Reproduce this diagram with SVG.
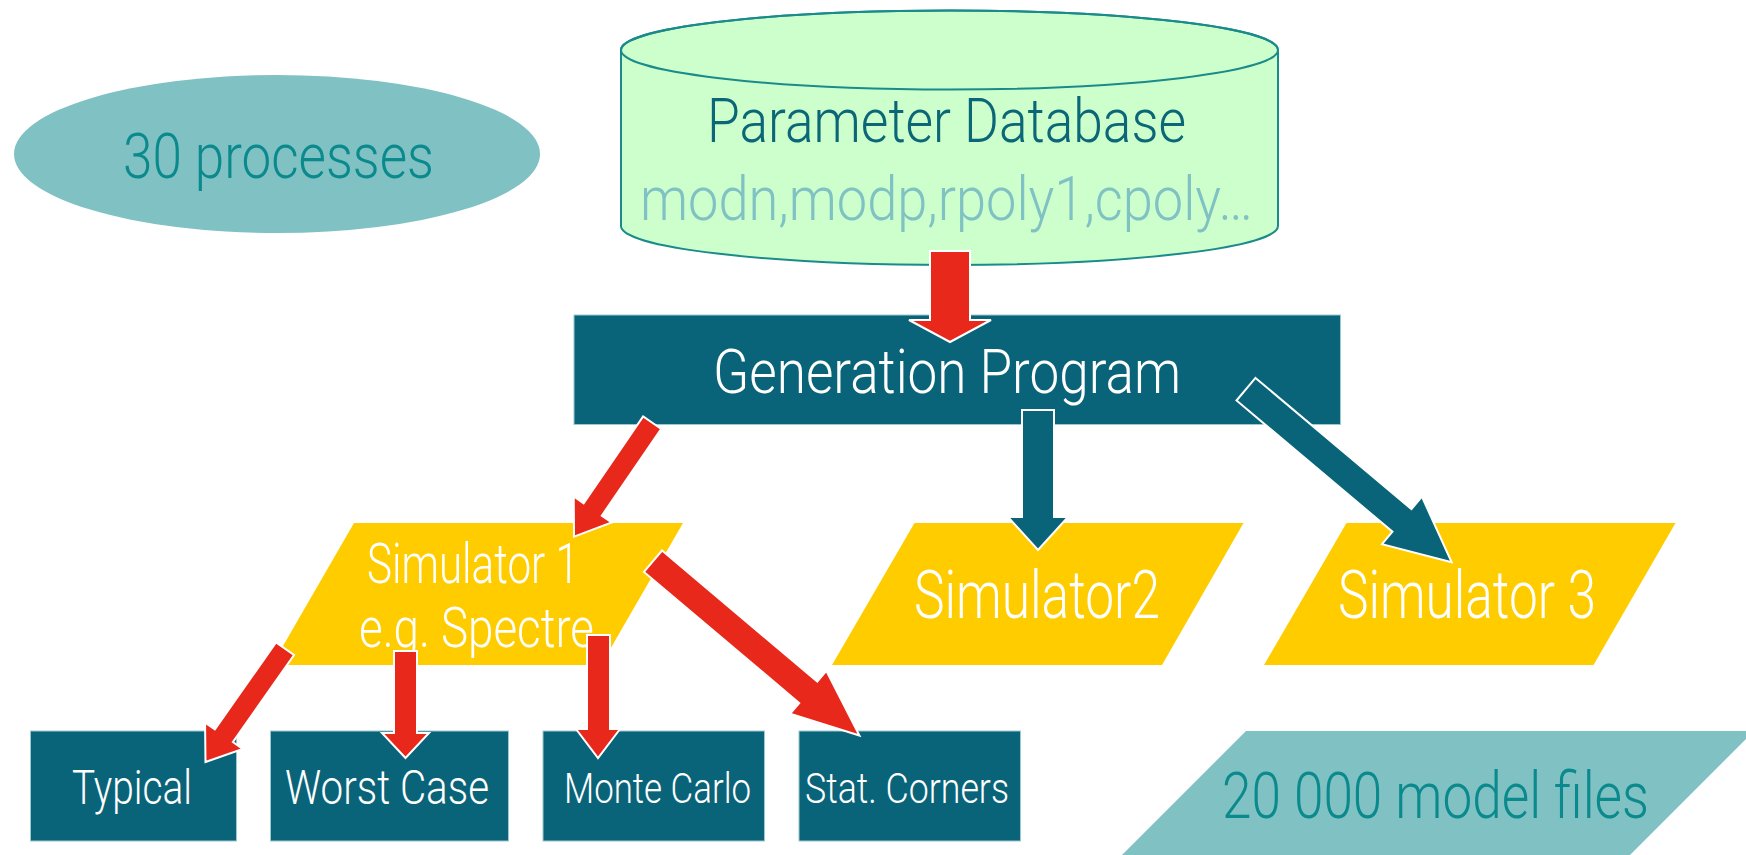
<svg xmlns="http://www.w3.org/2000/svg" width="1746" height="855" viewBox="0 0 1746 855">
<style>
text{font-family:Roboto,"Liberation Sans",Arial,sans-serif;font-weight:300;}
.w{fill:#ffffff;}
.teal{fill:#0a8a8c;}
.dark{fill:#0b6677;}
.light{fill:#80c1c4;}
.box{fill:#0a6479;stroke:#9cc8d0;stroke-width:1;}
.sim{fill:#ffcc00;}
.red{fill:#e8281a;stroke:#ffffff;stroke-width:2;stroke-linejoin:miter;}
.blue{fill:#0a6479;stroke:#ffffff;stroke-width:2;stroke-linejoin:miter;}
</style>
<rect width="1746" height="855" fill="#ffffff"/>

<g id="processes">
<ellipse cx="277" cy="154" rx="263" ry="79" class="light"/>
<text x="123" y="178" font-size="63" class="teal" textLength="311" lengthAdjust="spacingAndGlyphs">30 processes</text>
</g>

<g id="database">
<path d="M621,50 L621,226 A328.5,39 0 0 0 1278,226 L1278,50 A328.5,39.5 0 0 0 621,50 Z" fill="#ccffcc" stroke="#1a8a8a" stroke-width="2"/>
<ellipse cx="949.5" cy="50" rx="328.5" ry="39.5" fill="none" stroke="#1a8a8a" stroke-width="2"/>
<text x="707" y="142" font-size="61" class="dark" textLength="479" lengthAdjust="spacingAndGlyphs">Parameter Database</text>
<text x="640" y="220" font-size="61" class="light" textLength="613" lengthAdjust="spacingAndGlyphs">modn,modp,rpoly1,cpoly…</text>
</g>

<g id="generation">
<rect x="574" y="315" width="766.5" height="109.5" class="box"/>
<text x="713" y="393" font-size="61" class="w" textLength="468" lengthAdjust="spacingAndGlyphs">Generation Program</text>
</g>

<g id="sim1">
<polygon points="354,523 683,523 601,665 272,665" class="sim"/>
<text x="367" y="583" font-size="55" class="w" textLength="212" lengthAdjust="spacingAndGlyphs">Simulator 1</text>
<text x="359" y="647" font-size="55" class="w" textLength="235" lengthAdjust="spacingAndGlyphs">e.g. Spectre</text>
</g>

<g id="sim2">
<polygon points="914.5,523 1243.5,523 1162,665 832,665" class="sim"/>
<text x="914" y="618" font-size="66" class="w" textLength="246" lengthAdjust="spacingAndGlyphs">Simulator2</text>
</g>

<g id="sim3">
<polygon points="1346.5,523 1675.5,523 1593.5,665 1264,665" class="sim"/>
<text x="1338" y="618" font-size="66" class="w" textLength="258" lengthAdjust="spacingAndGlyphs">Simulator 3</text>
</g>

<g id="typical">
<rect x="30.5" y="731" width="206" height="110" class="box"/>
<text x="72" y="804" font-size="48" class="w" textLength="120" lengthAdjust="spacingAndGlyphs">Typical</text>
</g>

<g id="worstcase">
<rect x="270.5" y="731" width="238" height="110" class="box"/>
<text x="285" y="804" font-size="48" class="w" textLength="204" lengthAdjust="spacingAndGlyphs">Worst Case</text>
</g>

<g id="montecarlo">
<rect x="543" y="731" width="221.5" height="110" class="box"/>
<text x="564" y="803" font-size="42" class="w" textLength="187" lengthAdjust="spacingAndGlyphs">Monte Carlo</text>
</g>

<g id="statcorners">
<rect x="799" y="731" width="221.5" height="110" class="box"/>
<text x="805" y="803" font-size="42" class="w" textLength="204" lengthAdjust="spacingAndGlyphs">Stat. Corners</text>
</g>

<g id="modelfiles">
<polygon points="1246,731 1754,731 1630,855 1122,855" class="light"/>
<text x="1222" y="818" font-size="64" class="teal" textLength="427" lengthAdjust="spacingAndGlyphs">20 000 model files</text>
</g>

<g id="connectors">
<polygon class="red" points="930,251 970,251 970,320 991,320 950,342 909,320 930,320"/>
<polygon class="blue" points="1022,410 1054,410 1054,517 1068,517 1038,550 1008,517 1022,517"/>
<polygon class="blue" transform="translate(1246,389.2) rotate(40.08)" points="0,-14.75 203.8,-14.75 203.8,-31 268.8,0 203.8,31 203.8,14.75 0,14.75"/>
<polygon class="red" transform="translate(652.2,422.7) rotate(124.44)" points="0,-11 105.2,-11 105.2,-23 138.2,0 105.2,23 105.2,11 0,11"/>
<polygon class="red" transform="translate(285,648.7) rotate(125.06)" points="0,-11 106.4,-11 106.4,-23 138.4,0 106.4,23 106.4,11 0,11"/>
<polygon class="red" points="394,651 417,651 417,733 429,733 405.5,758 382,733 394,733"/>
<polygon class="red" points="587,635 610,635 610,729 620,729 598,758 576,729 587,729"/>
<polygon class="red" transform="translate(653,561.2) rotate(40.18)" points="0,-14 203.2,-14 203.2,-28 270.2,0 203.2,28 203.2,14 0,14"/>
</g>
</svg>
